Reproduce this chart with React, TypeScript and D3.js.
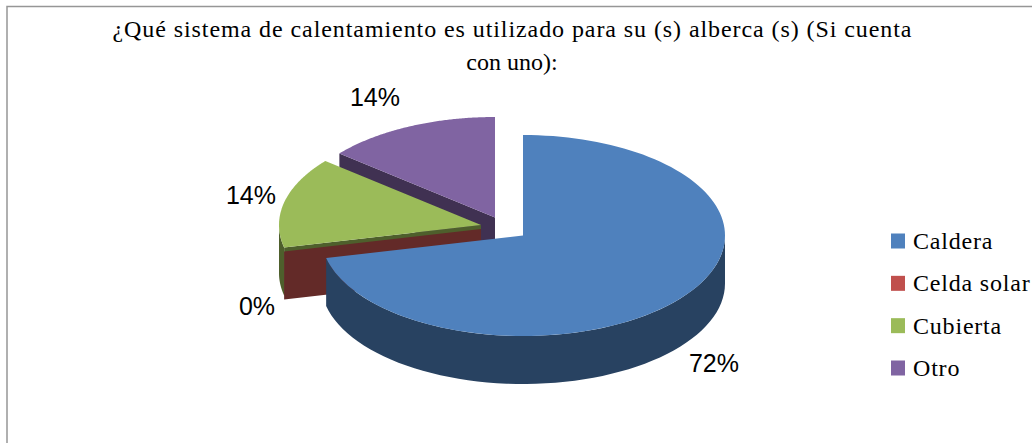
import React from "react";
import * as d3 from "d3";

const categories = ["Caldera", "Celda solar", "Cubierta", "Otro"];
const values = [71.4, 0, 14.6, 14];
const percentLabels = ["72%", "0%", "14%", "14%"];
const titleLines = ["¿Qué sistema de calentamiento es utilizado para su (s) alberca (s) (Si cuenta", "con uno):"];

const topColors = ["#4f81bd", "#c0504d", "#9bbb59", "#8064a2"];
const sideColors = ["#284261", "#632a28", "#4e5f2c", "#403152"];

// each slice is pulled out of the pie by hand, same as the exploded original
const centers = [
  { x: 523, y: 235.5 },
  { x: 481, y: 229 },
  { x: 481, y: 225 },
  { x: 495, y: 217.5 },
];
const labelPos = [
  { x: 714, y: 372 },
  { x: 257, y: 315 },
  { x: 251, y: 204 },
  { x: 375, y: 106 },
];

const rx = 202;
const ry = 100.5;
const depth = 48;

const pie = d3.pie<number>().sort(null).value((d) => d);
const slices = pie(values);

const px = (c: { x: number }, a: number) => c.x + rx * Math.sin(a);
const py = (c: { y: number }, a: number) => c.y - ry * Math.cos(a);

const lineGen = d3.line();

// outer rim, only the front half of the ellipse can be seen
const rimPath = (c: { x: number; y: number }, a0: number, a1: number) => {
  const from = Math.max(a0, Math.PI / 2);
  const to = Math.min(a1, (3 * Math.PI) / 2);
  if (to <= from) return null;
  const angles = d3.range(0, 61).map((i) => from + ((to - from) * i) / 60);
  const upper = angles.map((a) => [px(c, a), py(c, a)] as [number, number]);
  const lower = angles
    .slice()
    .reverse()
    .map((a) => [px(c, a), py(c, a) + depth] as [number, number]);
  return lineGen([...upper, ...lower]) + "Z";
};

// cut face along the radius at angle a
const wallPath = (c: { x: number; y: number }, a: number) =>
  lineGen([
    [c.x, c.y],
    [px(c, a), py(c, a)],
    [px(c, a), py(c, a) + depth],
    [c.x, c.y + depth],
  ]) + "Z";

const topPath = (c: { x: number; y: number }, a0: number, a1: number) => {
  const angles = d3.range(0, 121).map((i) => a0 + ((a1 - a0) * i) / 120);
  const pts = angles.map((a) => [px(c, a), py(c, a)] as [number, number]);
  return lineGen([[c.x, c.y], ...pts]) + "Z";
};

export default function App() {
  // back slices first, the red wall goes over the green one, blue on top
  const order = [3, 2, 1, 0];
  return (
    <svg
      width={1032}
      height={443}
      style={{ position: "absolute", left: 0, top: 0, background: "#fff" }}
    >
      <rect x={7} y={6.5} width={1040} height={460} fill="#fff" stroke="#969696" strokeWidth={1.5} />
      <g fontFamily="'Liberation Serif'" fontSize={24} fill="#000" textAnchor="middle">
        {titleLines.map((t, i) => (
          <text key={i} x={512} y={37 + i * 33} textLength={i === 0 ? 799 : undefined}>
            {t}
          </text>
        ))}
      </g>
      {order.map((i) => {
        const s = slices[i];
        const c = centers[i];
        const rim = rimPath(c, s.startAngle, s.endAngle);
        return (
          <g key={categories[i]}>
            <path d={wallPath(c, s.startAngle)} fill={sideColors[i]} />
            {rim && <path d={rim} fill={sideColors[i]} />}
            {s.endAngle > s.startAngle && (
              <path d={topPath(c, s.startAngle, s.endAngle)} fill={topColors[i]} />
            )}
          </g>
        );
      })}
      <g fontFamily="'Liberation Sans'" fontSize={25} fill="#000" textAnchor="middle">
        {percentLabels.map((t, i) => (
          <text key={i} x={labelPos[i].x} y={labelPos[i].y}>
            {t}
          </text>
        ))}
      </g>
      {categories.map((name, i) => {
        const y = d3.scalePoint<number>().domain([0, 1, 2, 3]).range([241, 368])(i) as number;
        return (
          <g key={name}>
            <rect x={891} y={y - 7.5} width={14} height={15} fill={topColors[i]} />
            <text
              x={913}
              y={y + 8}
              fontFamily="'Liberation Serif'"
              fontSize={24}
              letterSpacing={0.8}
              fill="#000"
            >
              {name}
            </text>
          </g>
        );
      })}
    </svg>
  );
}
